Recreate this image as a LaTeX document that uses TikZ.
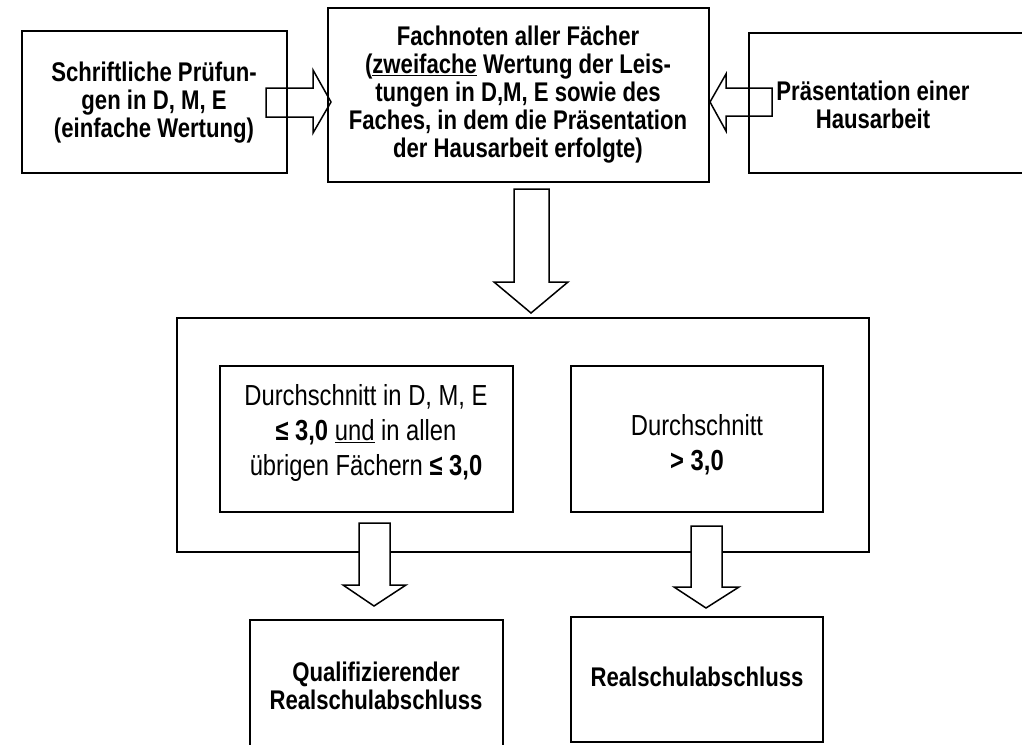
\documentclass[tikz,border=0pt]{standalone}
\usepackage{fontspec}
\setmainfont{Liberation Sans}[FakeStretch=0.82]
\begin{document}
\begin{tikzpicture}[x=1pt,y=-1pt,
  boxline/.style={draw=black, line width=1.6pt},
  blockarrow/.style={draw=black, line width=1.5pt, line join=miter},
  boldtxt/.style={align=center, font=\fontsize{27}{28}\selectfont\bfseries, inner sep=0pt},
  plaintxt/.style={align=center, font=\fontsize{29}{35}\selectfont, inner sep=0pt}]
\useasboundingbox (0,0) rectangle (1022,744);
% boxes
\draw[boxline] (22,31) rectangle (287,173);
\draw[boxline] (328,8) rectangle (709,182);
\draw[boxline] (749,33) rectangle (1060,173);
\draw[boxline] (177,318) rectangle (869,552);
\draw[boxline] (220,366) rectangle (513,512);
\draw[boxline] (571,366) rectangle (823,512);
\draw[boxline] (250,620) rectangle (503,780);
\draw[boxline] (571,617) rectangle (823,742);
% texts
\node[boldtxt] (schrift) at (154,103) {Schriftliche Prüfun-\\gen in D, M, E\\(einfache Wertung)};
\node[boldtxt] (fach) at (518,95) {Fachnoten aller Fächer\\(\underline{zweifache} Wertung der Leis-\\tungen in D,M, E sowie des\\Faches, in dem die Präsentation\\der Hausarbeit erfolgte)};
\node[boldtxt] (praes) at (873,105) {Präsentation einer\\Hausarbeit};
\node[plaintxt] (dleft) at (366,433) {Durchschnitt in D, M, E\\\textbf{≤ 3,0} \underline{und} in allen\\übrigen Fächern \textbf{≤ 3,0}};
\node[plaintxt] (dright) at (697,445) {Durchschnitt\\\textbf{> 3,0}};
\node[boldtxt] (quali) at (376,686) {Qualifizierender\\Realschulabschluss};
\node[boldtxt] (real) at (697,677) {Realschulabschluss};
% block arrows
\draw[blockarrow] (266,88) -- (313,88) -- (313,70) -- (331,102) -- (313,133) -- (313,117) -- (266,117) -- cycle;
\draw[blockarrow] (772,88) -- (726,88) -- (726,74) -- (710,102) -- (726,131) -- (726,116) -- (772,116) -- cycle;
\draw[blockarrow] (514,189) -- (549,189) -- (549,282) -- (568,282) -- (531,313) -- (494,282) -- (514,282) -- cycle;
\draw[blockarrow, fill=white] (359,523) -- (390,523) -- (390,585) -- (406,585) -- (374,606) -- (343,585) -- (359,585) -- cycle;
\draw[blockarrow, fill=white] (691,526) -- (722,526) -- (722,587) -- (739,587) -- (706,608) -- (674,587) -- (691,587) -- cycle;
\end{tikzpicture}
\end{document}
